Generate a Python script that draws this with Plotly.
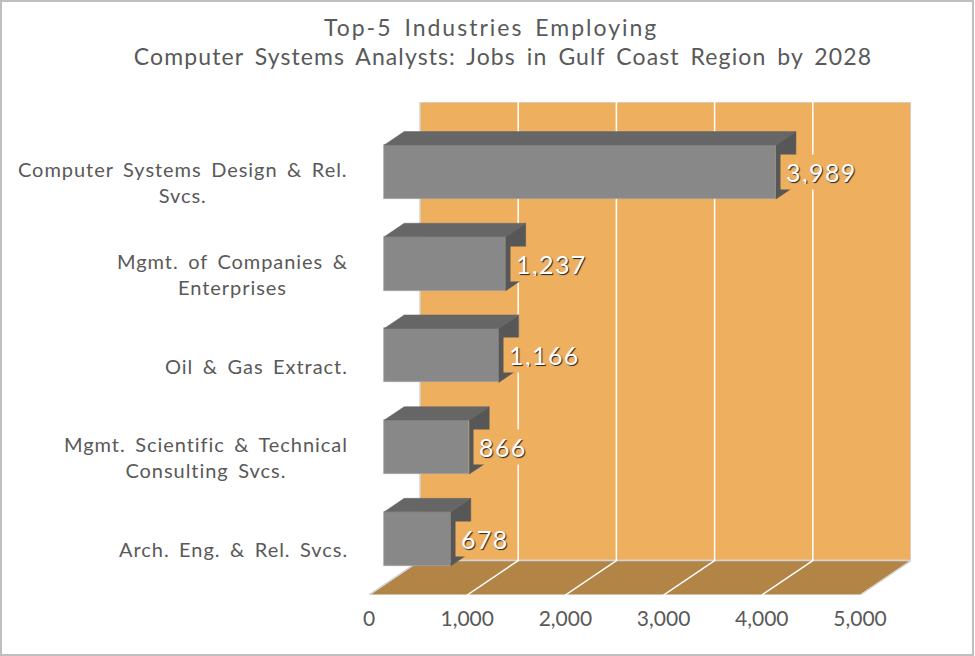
import plotly.graph_objects as go

categories = ["Arch. Eng. & Rel. Svcs.",
              "Mgmt. Scientific & Technical<br>Consulting Svcs.",
              "Oil & Gas Extract.",
              "Mgmt. of Companies &<br>Enterprises",
              "Computer Systems Design & Rel.<br>Svcs."]
values = [678, 866, 1166, 1237, 3989]
x_ticks = [0, 1000, 2000, 3000, 4000, 5000]
title_lines = ["Top-5 Industries Employing", "Computer Systems Analysts: Jobs in Gulf Coast Region by 2028"]

W, H = 975, 656
FONT = "Lato"
TXT = "#595959"
WALL, FLOOR = "#EEB05F", "#B28546"
FRONT, TOP, SIDE = "#888888", "#666666", "#575757"
EDGE = "#D4D4D4"

XMAX = 5519.35
YMIN, YMAX = -0.5, 4.876
DX, DY = XMAX - x_ticks[-1], YMAX - YMIN - len(categories)
BAR_D0, BAR_D1 = 0.30, 0.69
BAR_W = 0.589


def proj(x, u, d):
    return x + d * DX, u + d * DY


def path(pts):
    return "M " + " L ".join(f"{x:.3f},{y:.3f}" for x, y in pts) + " Z"


def spaced(text, letter, word):
    style = f"letter-spacing:{letter}px;word-spacing:{word}px"
    return f'<span style="{style}">{text}</span>'


shapes = []
x_end = x_ticks[-1]
wall = [proj(0, YMIN, 1), proj(x_end, YMIN, 1), proj(x_end, YMIN + len(categories), 1), proj(0, YMIN + len(categories), 1)]
floor = [proj(0, YMIN, 0), proj(x_end, YMIN, 0), proj(x_end, YMIN, 1), proj(0, YMIN, 1)]
shapes.append(dict(type="path", path=path(wall), fillcolor=WALL, line=dict(color=EDGE, width=1.5), layer="below", xref="x", yref="y"))
shapes.append(dict(type="path", path=path(floor), fillcolor=FLOOR, line=dict(color=EDGE, width=1.5), layer="below", xref="x", yref="y"))
for t in x_ticks[1:-1]:
    a, b, c = proj(t, YMIN, 0), proj(t, YMIN, 1), proj(t, YMIN + len(categories), 1)
    shapes.append(dict(type="path", path=f"M {a[0]:.3f},{a[1]:.3f} L {b[0]:.3f},{b[1]:.3f} L {c[0]:.3f},{c[1]:.3f}",
                       line=dict(color="#FFFFFF", width=1.5), layer="below", xref="x", yref="y"))
shapes.append(dict(type="rect", xref="paper", yref="paper", x0=1.0 / W, x1=1 - 2.0 / W, y0=1.0 / H, y1=1 - 1.0 / H,
                   line=dict(color="#BFBFBF", width=2), fillcolor="rgba(0,0,0,0)", layer="below"))

fig = go.Figure()

for i, v in enumerate(values):
    hw = BAR_W / 2
    top = [proj(0, i + hw, BAR_D0), proj(v, i + hw, BAR_D0), proj(v, i + hw, BAR_D1), proj(0, i + hw, BAR_D1)]
    side = [proj(v, i - hw, BAR_D0), proj(v, i + hw, BAR_D0), proj(v, i + hw, BAR_D1), proj(v, i - hw, BAR_D1)]
    for poly, col in ((side, SIDE), (top, TOP)):
        xs, ys = zip(*(poly + poly[:1]))
        fig.add_trace(go.Scatter(x=list(xs), y=list(ys), mode="lines", fill="toself", fillcolor=col,
                                 line=dict(color=col, width=0.5), hoverinfo="skip", showlegend=False))

base_x, base_y = proj(0, 0, BAR_D0)
fig.add_trace(go.Bar(orientation="h", x=values, y=[i + base_y for i in range(len(values))],
                     base=base_x, width=BAR_W, marker=dict(color=FRONT, line=dict(color="#A6A6A6", width=0.7)),
                     showlegend=False))

annotations = []
for i, c in enumerate(categories):
    annotated = "<br>".join(spaced(line, 0.95, 3.5) for line in c.split("<br>"))
    annotations.append(dict(text=annotated, xref="paper", yref="y", x=349.5 / W, y=i, xanchor="right", yanchor="middle",
                            align="center", showarrow=False, font=dict(family=FONT, size=20, color=TXT)))
for i, v in enumerate(values):
    ex, ey = proj(v, i, BAR_D0)
    annotations.append(dict(text=spaced(f"{v:,}", 1.4, 0), xref="x", yref="y", x=ex, y=ey, xanchor="left", yanchor="middle",
                            xshift=4, showarrow=False, bgcolor=WALL, borderpad=5, height=24,
                            font=dict(family=FONT, size=25, color="#FFFFFF", shadow="1px 1px 1px #222222")))

title_text = spaced(title_lines[0] + "\u00a0" * 2, 2.0, 4) + "<br>" + spaced(title_lines[1], 1.1, 4)
fig.update_layout(
    width=W, height=H, margin=dict(l=0, r=0, t=0, b=0, autoexpand=False), paper_bgcolor="#FFFFFF", plot_bgcolor="rgba(0,0,0,0)",
    title=dict(text=title_text, x=503.0 / W, xanchor="center", y=1 - 35.5 / H, yanchor="middle",
               font=dict(family=FONT, size=23, color=TXT)),
    xaxis=dict(domain=[369.0 / W, 911.0 / W], range=[0, XMAX], tickvals=x_ticks, tickformat=",", showgrid=False, zeroline=False,
               showline=False, ticks="outside", ticklen=5, tickcolor="rgba(0,0,0,0)",
               tickfont=dict(family=FONT, size=21, color=TXT)),
    yaxis=dict(domain=[(H - 595.0) / H, (H - 102.0) / H], range=[YMIN, YMAX], showgrid=False, zeroline=False, showline=False,
               showticklabels=False, ticks=""),
    shapes=shapes, annotations=annotations, bargap=0, hovermode=False,
)
fig.write_html("out.html", config={"displayModeBar": False},
               post_script="document.body.style.margin='0';document.body.style.overflow='hidden';")
